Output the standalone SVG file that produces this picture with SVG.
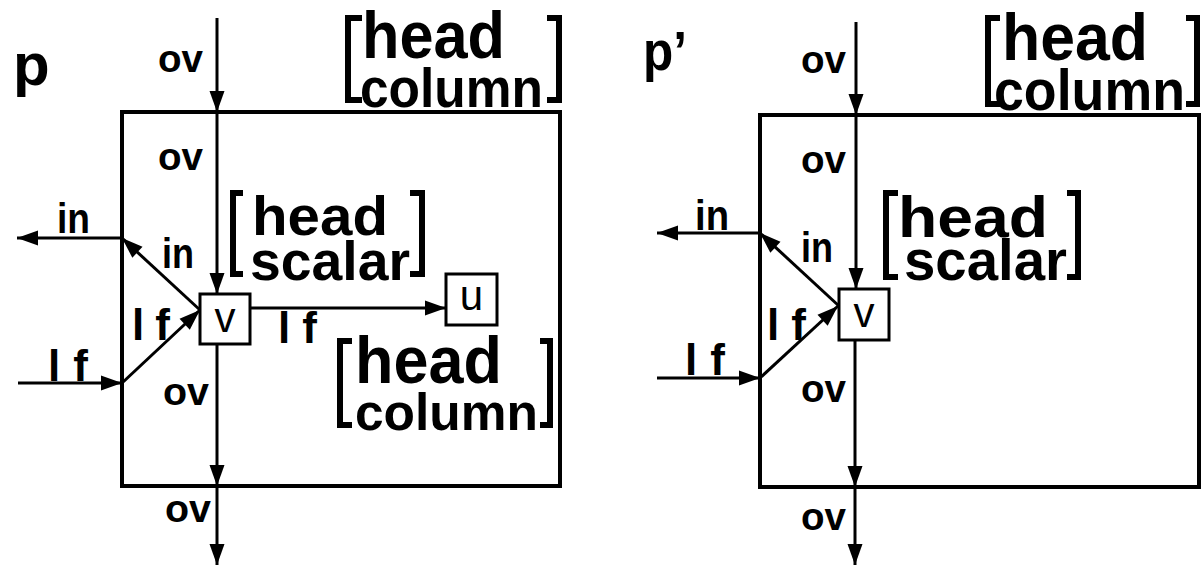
<svg xmlns="http://www.w3.org/2000/svg" width="1201" height="566" viewBox="0 0 1201 566">
<style>
.ln{stroke:#000;stroke-width:3;fill:none}
.bx{stroke:#000;stroke-width:4;fill:none}
.nd{stroke:#000;stroke-width:3;fill:#fff}
.br{stroke:#000;stroke-width:6;fill:none;stroke-linecap:butt;stroke-linejoin:miter}
.lb{font-family:"Liberation Sans",Arial,sans-serif;font-weight:bold;fill:#000}
.nt{font-family:"Liberation Sans",Arial,sans-serif;font-size:42px;fill:#000;text-anchor:middle}
.big{font-family:"Liberation Sans",Arial,sans-serif;font-weight:bold;fill:#000}
</style>
<defs>
<marker id="ah" markerUnits="userSpaceOnUse" markerWidth="22" markerHeight="18" refX="21" refY="9" orient="auto" overflow="visible">
<path d="M0,1.5 L21,9 L0,16.5 z" fill="#000"/>
</marker>
</defs>
<rect width="1201" height="566" fill="#fff"/>

<!-- left diagram -->
<g id="p-frame">
<rect class="bx" x="122" y="112" width="438" height="374"/>
<text class="lb" x="13" y="85" font-size="60">p</text>
</g>
<g id="p-v">
<rect class="nd" x="200" y="294" width="50" height="50"/>
<text class="nt" x="225" y="332">v</text>
</g>
<g id="p-u">
<rect class="nd" x="446" y="274" width="51" height="51"/>
<text class="nt" x="471.5" y="310">u</text>
</g>
<g id="p-head-column-top">
<path class="br" d="M362 18 H348 V100 H362"/>
<path class="br" d="M547 18 H559 V100 H547"/>
<text class="big"><tspan x="362" y="58" font-size="66" textLength="143" lengthAdjust="spacingAndGlyphs">head</tspan><tspan x="360" y="107" font-size="55" textLength="183" lengthAdjust="spacingAndGlyphs">column</tspan></text>
</g>
<g id="p-head-scalar">
<path class="br" d="M243 193 H233 V274 H243"/>
<path class="br" d="M410 193 H422 V274 H410"/>
<text class="big" font-size="56"><tspan x="252" y="235" textLength="136" lengthAdjust="spacingAndGlyphs">head</tspan><tspan x="250" y="280" textLength="160" lengthAdjust="spacingAndGlyphs">scalar</tspan></text>
</g>
<g id="p-head-column-bottom">
<path class="br" d="M352 341 H340 V425 H352"/>
<path class="br" d="M540 341 H550 V425 H540"/>
<text class="big"><tspan x="355" y="383" font-size="66" textLength="147" lengthAdjust="spacingAndGlyphs">head</tspan><tspan x="355" y="430" font-size="52" textLength="183" lengthAdjust="spacingAndGlyphs">column</tspan></text>
</g>

<!-- right diagram -->
<g id="pp-frame">
<rect class="bx" x="760" y="115" width="439" height="372"/>
<text class="lb" x="643" y="70" font-size="56" textLength="44" lengthAdjust="spacingAndGlyphs">p’</text>
</g>
<g id="pp-v">
<rect class="nd" x="839" y="289" width="50" height="51"/>
<text class="nt" x="864" y="327">v</text>
</g>
<g id="pp-head-column-top">
<path class="br" d="M1000 18 H988 V104 H1000"/>
<path class="br" d="M1186 18 H1197 V104 H1186"/>
<text class="big"><tspan x="1002" y="60" font-size="66" textLength="146" lengthAdjust="spacingAndGlyphs">head</tspan><tspan x="994" y="110" font-size="58" textLength="191" lengthAdjust="spacingAndGlyphs">column</tspan></text>
</g>
<g id="pp-head-scalar">
<path class="br" d="M898 193 H886 V277 H898"/>
<path class="br" d="M1067 193 H1078 V277 H1067"/>
<text class="big" font-size="58"><tspan x="898" y="237" textLength="150" lengthAdjust="spacingAndGlyphs">head</tspan><tspan x="904" y="280" textLength="163" lengthAdjust="spacingAndGlyphs">scalar</tspan></text>
</g>

<g id="connectors">
<path class="ln" d="M217 18 V112" marker-end="url(#ah)"/>
<path class="ln" d="M217 112 V294" marker-end="url(#ah)"/>
<path class="ln" d="M217 344 V486" marker-end="url(#ah)"/>
<path class="ln" d="M217 486 V565" marker-end="url(#ah)"/>
<path class="ln" d="M250 308 H446" marker-end="url(#ah)"/>
<path class="ln" d="M200 310 L122 238" marker-end="url(#ah)"/>
<path class="ln" d="M122 238 H17" marker-end="url(#ah)"/>
<path class="ln" d="M18 383 H122" marker-end="url(#ah)"/>
<path class="ln" d="M122 383 L200 310" marker-end="url(#ah)"/>

<path class="ln" d="M856 22 V115" marker-end="url(#ah)"/>
<path class="ln" d="M856 115 V289" marker-end="url(#ah)"/>
<path class="ln" d="M855 340 V487" marker-end="url(#ah)"/>
<path class="ln" d="M855 487 V565" marker-end="url(#ah)"/>
<path class="ln" d="M839 306 L760 233" marker-end="url(#ah)"/>
<path class="ln" d="M760 233 H657" marker-end="url(#ah)"/>
<path class="ln" d="M657 378 H760" marker-end="url(#ah)"/>
<path class="ln" d="M760 378 L838 306" marker-end="url(#ah)"/>

<g class="lb" font-size="38">
<text x="158" y="72" textLength="45" lengthAdjust="spacingAndGlyphs">ov</text>
<text x="158" y="170" textLength="45" lengthAdjust="spacingAndGlyphs">ov</text>
<text x="163" y="405" textLength="46" lengthAdjust="spacingAndGlyphs">ov</text>
<text x="165" y="522" textLength="46" lengthAdjust="spacingAndGlyphs">ov</text>
<text x="801" y="73" textLength="45" lengthAdjust="spacingAndGlyphs">ov</text>
<text x="801" y="173" textLength="45" lengthAdjust="spacingAndGlyphs">ov</text>
<text x="801" y="402" textLength="45" lengthAdjust="spacingAndGlyphs">ov</text>
<text x="801" y="530" textLength="45" lengthAdjust="spacingAndGlyphs">ov</text>
</g>
<g class="lb" font-size="42">
<text x="57" y="233" textLength="33" lengthAdjust="spacingAndGlyphs">in</text>
<text x="162" y="268" textLength="32" lengthAdjust="spacingAndGlyphs">in</text>
<text x="695" y="230" textLength="34" lengthAdjust="spacingAndGlyphs">in</text>
<text x="801" y="262" textLength="32" lengthAdjust="spacingAndGlyphs">in</text>
</g>
<g class="lb" font-size="44">
<text x="48" y="381" textLength="40" lengthAdjust="spacing">lf</text>
<text x="132" y="340" textLength="38" lengthAdjust="spacing">lf</text>
<text x="278" y="343" textLength="39" lengthAdjust="spacing">lf</text>
<text x="685" y="375" textLength="40" lengthAdjust="spacing">lf</text>
<text x="767" y="340" textLength="39" lengthAdjust="spacing">lf</text>
</g>
</g>
</svg>
